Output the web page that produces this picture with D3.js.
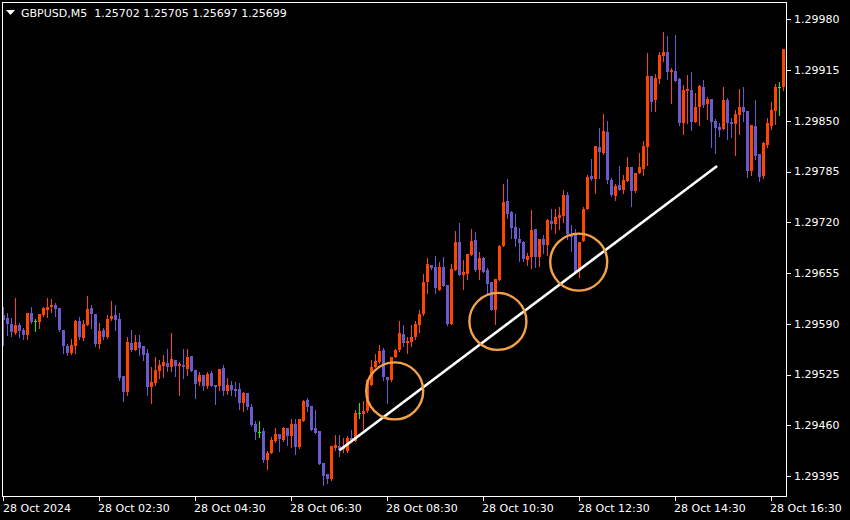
<!DOCTYPE html>
<html>
<head>
<meta charset="utf-8">
<script src="https://cdn.jsdelivr.net/npm/d3@7"></script>
<style>
  html, body { margin: 0; padding: 0; background: #000; }
  svg { display: block; }
  text { font-family: "DejaVu Sans", sans-serif; font-size: 11px; fill: #fff; }
</style>
</head>
<body>
<svg id="chart" width="850" height="520"></svg>
<script>
// ---- DATA (GBPUSD, M5, 28 Oct 2024, first bar 00:30) ----
const symbolTitle = "GBPUSD,M5";
const headerQuote = ["1.25702", "1.25705", "1.25697", "1.25699"];
const firstBarTime = "2024-10-28T00:30:00";
const barMinutes = 5;

const opens = [1.29601,1.29597,1.29590,1.29578,1.29588,1.29582,1.29576,1.29604,1.29593,1.29592,1.29601,1.29608,1.29611,1.29614,1.29610,1.29582,1.29561,1.29552,1.29561,1.29594,1.29572,1.29589,1.29610,1.29602,1.29564,1.29582,1.29573,1.29596,1.29601,1.29596,1.29523,1.29503,1.29565,1.29557,1.29567,1.29561,1.29552,1.29509,1.29514,1.29529,1.29536,1.29540,1.29534,1.29544,1.29536,1.29537,1.29532,1.29549,1.29531,1.29515,1.29524,1.29510,1.29527,1.29511,1.29510,1.29533,1.29504,1.29512,1.29506,1.29506,1.29489,1.29501,1.29483,1.29462,1.29452,1.29453,1.29415,1.29425,1.29440,1.29449,1.29441,1.29456,1.29446,1.29462,1.29432,1.29465,1.29492,1.29485,1.29456,1.29453,1.29412,1.29398,1.29391,1.29431,1.29433,1.29430,1.29427,1.29444,1.29440,1.29476,1.29474,1.29478,1.29512,1.29535,1.29541,1.29556,1.29522,1.29518,1.29547,1.29556,1.29577,1.29566,1.29567,1.29573,1.29588,1.29603,1.29644,1.29665,1.29663,1.29633,1.29663,1.29640,1.29590,1.29659,1.29695,1.29652,1.29654,1.29678,1.29697,1.29659,1.29674,1.29659,1.29644,1.29608,1.29646,1.29689,1.29747,1.29733,1.29714,1.29699,1.29695,1.29672,1.29676,1.29711,1.29676,1.29699,1.29691,1.29722,1.29718,1.29725,1.29728,1.29755,1.29705,1.29704,1.29658,1.29696,1.29737,1.29779,1.29775,1.29816,1.29809,1.29836,1.29774,1.29754,1.29768,1.29761,1.29773,1.29791,1.29760,1.29783,1.29788,1.29817,1.29907,1.29876,1.29904,1.29933,1.29938,1.29913,1.29914,1.29903,1.29847,1.29888,1.29889,1.29848,1.29868,1.29893,1.29871,1.29878,1.29850,1.29842,1.29839,1.29877,1.29848,1.29846,1.29857,1.29868,1.29862,1.29786,1.29843,1.29807,1.29779,1.29819,1.29843,1.29862,1.29893,1.29893];
const highs = [1.29611,1.29604,1.29598,1.29623,1.29591,1.29585,1.29604,1.29611,1.29596,1.29603,1.29612,1.29623,1.29622,1.29616,1.29610,1.29582,1.29564,1.29571,1.29595,1.29599,1.29595,1.29626,1.29614,1.29602,1.29591,1.29585,1.29601,1.29619,1.29614,1.29604,1.29523,1.29573,1.29582,1.29575,1.29576,1.29562,1.29558,1.29535,1.29547,1.29543,1.29550,1.29558,1.29578,1.29544,1.29541,1.29558,1.29558,1.29549,1.29531,1.29528,1.29524,1.29528,1.29529,1.29511,1.29532,1.29537,1.29521,1.29517,1.29515,1.29514,1.29503,1.29501,1.29487,1.29465,1.29465,1.29456,1.29427,1.29445,1.29456,1.29449,1.29458,1.29456,1.29468,1.29468,1.29468,1.29492,1.29495,1.29485,1.29480,1.29453,1.29412,1.29398,1.29433,1.29448,1.29448,1.29444,1.29446,1.29454,1.29480,1.29489,1.29491,1.29518,1.29544,1.29551,1.29563,1.29559,1.29522,1.29547,1.29558,1.29594,1.29588,1.29573,1.29588,1.29593,1.29608,1.29654,1.29674,1.29665,1.29677,1.29669,1.29676,1.29640,1.29667,1.29709,1.29719,1.29672,1.29679,1.29711,1.29708,1.29682,1.29676,1.29661,1.29644,1.29647,1.29691,1.29769,1.29775,1.29734,1.29731,1.29713,1.29696,1.29681,1.29736,1.29711,1.29699,1.29704,1.29724,1.29737,1.29737,1.29740,1.29761,1.29759,1.29717,1.29711,1.29695,1.29740,1.29781,1.29801,1.29818,1.29841,1.29859,1.29850,1.29777,1.29769,1.29792,1.29781,1.29804,1.29791,1.29783,1.29809,1.29824,1.29937,1.29907,1.29910,1.29938,1.29964,1.29959,1.29918,1.29960,1.29905,1.29896,1.29909,1.29912,1.29886,1.29896,1.29902,1.29880,1.29878,1.29852,1.29847,1.29893,1.29879,1.29854,1.29864,1.29891,1.29893,1.29862,1.29845,1.29877,1.29807,1.29823,1.29854,1.29874,1.29897,1.29900,1.29942];
const lows = [1.29563,1.29575,1.29574,1.29577,1.29573,1.29570,1.29570,1.29591,1.29581,1.29584,1.29600,1.29599,1.29605,1.29600,1.29581,1.29553,1.29550,1.29551,1.29553,1.29570,1.29569,1.29588,1.29585,1.29561,1.29559,1.29570,1.29572,1.29595,1.29582,1.29518,1.29491,1.29499,1.29555,1.29556,1.29550,1.29544,1.29499,1.29489,1.29511,1.29521,1.29522,1.29529,1.29529,1.29523,1.29499,1.29520,1.29524,1.29529,1.29495,1.29511,1.29505,1.29508,1.29510,1.29487,1.29505,1.29499,1.29500,1.29499,1.29497,1.29481,1.29478,1.29481,1.29459,1.29442,1.29445,1.29413,1.29404,1.29424,1.29438,1.29427,1.29440,1.29435,1.29432,1.29423,1.29431,1.29465,1.29478,1.29454,1.29450,1.29410,1.29383,1.29386,1.29390,1.29428,1.29421,1.29426,1.29426,1.29441,1.29440,1.29469,1.29455,1.29477,1.29511,1.29534,1.29540,1.29518,1.29489,1.29517,1.29547,1.29555,1.29561,1.29552,1.29561,1.29571,1.29580,1.29601,1.29630,1.29660,1.29629,1.29633,1.29638,1.29588,1.29590,1.29659,1.29652,1.29635,1.29647,1.29678,1.29658,1.29647,1.29656,1.29628,1.29608,1.29590,1.29646,1.29689,1.29725,1.29700,1.29689,1.29670,1.29670,1.29665,1.29661,1.29663,1.29664,1.29681,1.29678,1.29711,1.29706,1.29711,1.29720,1.29699,1.29683,1.29655,1.29650,1.29696,1.29737,1.29774,1.29757,1.29777,1.29807,1.29770,1.29754,1.29749,1.29761,1.29758,1.29773,1.29741,1.29759,1.29783,1.29780,1.29794,1.29863,1.29863,1.29899,1.29927,1.29904,1.29873,1.29901,1.29845,1.29833,1.29847,1.29838,1.29848,1.29845,1.29868,1.29852,1.29816,1.29809,1.29830,1.29839,1.29827,1.29829,1.29806,1.29833,1.29850,1.29778,1.29780,1.29801,1.29773,1.29777,1.29816,1.29839,1.29846,1.29857,1.29889];
const closes = [1.29595,1.29590,1.29580,1.29588,1.29581,1.29576,1.29604,1.29592,1.29593,1.29603,1.29610,1.29611,1.29614,1.29609,1.29582,1.29561,1.29553,1.29563,1.29594,1.29573,1.29590,1.29609,1.29602,1.29564,1.29581,1.29573,1.29596,1.29600,1.29595,1.29521,1.29503,1.29567,1.29557,1.29567,1.29559,1.29550,1.29509,1.29515,1.29531,1.29537,1.29541,1.29534,1.29545,1.29536,1.29539,1.29534,1.29547,1.29530,1.29513,1.29524,1.29510,1.29526,1.29510,1.29509,1.29532,1.29504,1.29512,1.29505,1.29504,1.29489,1.29501,1.29483,1.29460,1.29451,1.29452,1.29415,1.29424,1.29441,1.29449,1.29442,1.29456,1.29446,1.29462,1.29432,1.29468,1.29491,1.29483,1.29454,1.29450,1.29410,1.29395,1.29391,1.29433,1.29435,1.29428,1.29433,1.29444,1.29441,1.29476,1.29476,1.29478,1.29518,1.29535,1.29542,1.29555,1.29522,1.29518,1.29547,1.29556,1.29578,1.29566,1.29568,1.29573,1.29590,1.29603,1.29644,1.29667,1.29661,1.29636,1.29663,1.29638,1.29590,1.29660,1.29695,1.29652,1.29656,1.29679,1.29696,1.29659,1.29674,1.29656,1.29641,1.29608,1.29647,1.29690,1.29746,1.29731,1.29713,1.29699,1.29693,1.29673,1.29677,1.29710,1.29675,1.29699,1.29691,1.29723,1.29718,1.29727,1.29729,1.29755,1.29705,1.29701,1.29655,1.29695,1.29737,1.29778,1.29775,1.29818,1.29810,1.29837,1.29774,1.29755,1.29766,1.29761,1.29774,1.29791,1.29760,1.29783,1.29791,1.29818,1.29907,1.29874,1.29905,1.29934,1.29938,1.29913,1.29915,1.29901,1.29847,1.29889,1.29891,1.29848,1.29868,1.29895,1.29870,1.29878,1.29848,1.29841,1.29838,1.29877,1.29847,1.29846,1.29859,1.29868,1.29861,1.29786,1.29845,1.29805,1.29778,1.29822,1.29847,1.29864,1.29893,1.29893,1.29942];

const priceTickLabels = ["1.29980","1.29915","1.29850","1.29785","1.29720","1.29655","1.29590","1.29525","1.29460","1.29395"];
const timeTickTimes = ["2024-10-28T00:30","2024-10-28T02:30","2024-10-28T04:30","2024-10-28T06:30","2024-10-28T08:30","2024-10-28T10:30","2024-10-28T12:30","2024-10-28T14:30","2024-10-28T16:30"];
const timeTickLabels = ["28 Oct 2024","28 Oct 02:30","28 Oct 04:30","28 Oct 06:30","28 Oct 08:30","28 Oct 10:30","28 Oct 12:30","28 Oct 14:30","28 Oct 16:30"];

// annotations (time, price)
const trendLine = [["2024-10-28T07:30", 1.29428], ["2024-10-28T15:22", 1.29792]];
const circleMarks = [["2024-10-28T08:39", 1.29504], ["2024-10-28T10:48", 1.29593], ["2024-10-28T12:29", 1.29669]];

// ---- COLORS ----
const bullColor = "#ff4500";
const bearColor = "#6a5acd";
const dojiColor = "#00ff00";
const circleColor = "#f4a248";

// ---- DRAW ----
const svg = d3.select("#chart");
svg.append("rect").attr("width", 850).attr("height", 520).attr("fill", "#000");

const parseT = d3.isoParse;
const t0 = parseT(firstBarTime);
const times = opens.map((_, i) => d3.timeMinute.offset(t0, barMinutes * i));
const bars = opens.map((o, i) => ({ t: times[i], o, h: highs[i], l: lows[i], c: closes[i] }));

const x = d3.scaleTime().domain([times[0], times[times.length - 1]]).range([3.5, 783.5]);
const y = d3.scaleLinear().domain([+priceTickLabels[priceTickLabels.length - 1], +priceTickLabels[0]]).range([476, 19.3]);

const gBars = svg.append("g").attr("shape-rendering", "crispEdges");
const cx = d => Math.floor(x(d.t));

// wicks
gBars.selectAll("rect.wick").data(bars).join("rect")
  .attr("class", "wick")
  .attr("x", d => cx(d))
  .attr("y", d => Math.round(y(d.h)))
  .attr("width", 1)
  .attr("height", d => Math.max(1, Math.round(y(d.l)) - Math.round(y(d.h)) + 1))
  .attr("fill", d => d.c > d.o ? bullColor : d.c < d.o ? bearColor : dojiColor);

// bodies
gBars.selectAll("rect.body").data(bars).join("rect")
  .attr("class", "body")
  .attr("x", d => cx(d) - 1)
  .attr("y", d => Math.round(y(Math.max(d.o, d.c))))
  .attr("width", 3)
  .attr("height", d => Math.max(1, Math.round(y(Math.min(d.o, d.c))) - Math.round(y(Math.max(d.o, d.c)))))
  .attr("fill", d => d.c > d.o ? bullColor : d.c < d.o ? bearColor : dojiColor);

// annotations
const lineGen = d3.line().x(d => x(parseT(d[0]))).y(d => y(d[1]));
svg.append("path").datum(trendLine).attr("d", lineGen)
  .attr("stroke", "#ffffff").attr("stroke-width", 2.6).attr("fill", "none");

svg.selectAll("circle.mark").data(circleMarks).join("circle")
  .attr("class", "mark")
  .attr("cx", d => x(parseT(d[0])))
  .attr("cy", d => y(d[1]))
  .attr("r", 28.5)
  .attr("fill", "none")
  .attr("stroke", circleColor)
  .attr("stroke-width", 2.4);

// frame
const gAxes = svg.append("g").attr("shape-rendering", "crispEdges");
gAxes.append("rect").attr("x", 2.5).attr("y", 2.5).attr("width", 784).attr("height", 494)
  .attr("fill", "none").attr("stroke", "#fff");

// price axis
priceTickLabels.forEach(lbl => {
  const yy = Math.round(y(+lbl)) + 0.5;
  gAxes.append("line").attr("x1", 787).attr("x2", 791).attr("y1", yy).attr("y2", yy).attr("stroke", "#fff");
  svg.append("text").attr("x", 794).attr("y", y(+lbl)).attr("dy", "0.36em").text(lbl);
});

// time axis
timeTickTimes.forEach((ts, i) => {
  const xx = Math.floor(x(parseT(ts))) + 0.5;
  gAxes.append("line").attr("x1", xx).attr("x2", xx).attr("y1", 497).attr("y2", 501).attr("stroke", "#fff");
  svg.append("text").attr("x", Math.max(3, xx - 1.5)).attr("y", 512).text(timeTickLabels[i]);
});

// header
svg.append("path").attr("d", "M6,10 L15,10 L10.5,15 Z").attr("fill", "#fff");
svg.append("text").attr("x", 21).attr("y", 17).style("white-space", "pre")
  .text(symbolTitle + "  " + headerQuote.join(" "));
</script>
</body>
</html>
